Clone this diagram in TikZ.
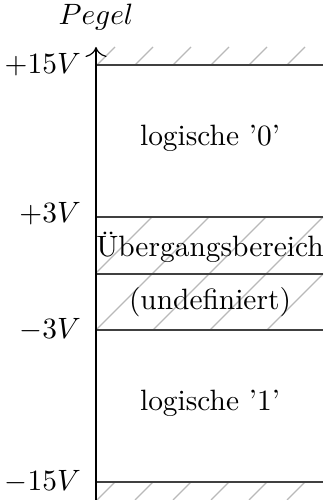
\documentclass[tikz,border=0pt]{standalone}
\usepackage{amsmath}
\usepackage{tikz}
\usetikzlibrary{arrows.meta, positioning}

\begin{document}
\begin{tikzpicture}[
    x=0.34pt, y=0.34pt,
    level/.style={draw=black!75, semithick},
    hatch/.style={draw=gray!55, thin},
    axis/.style={-{To[length=1.2mm]}, thin},
    volt/.style={anchor=east, inner sep=1pt},
    zone/.style={align=center}
]
    \useasboundingbox (0,0) rectangle (326,500);

    % Coordinates
    \coordinate (o) at (96,0);
    \coordinate (top) at (96,453);
    \coordinate (p15) at (96,435);
    \coordinate (p3) at (96,283);
    \coordinate (mid) at (96,226);
    \coordinate (m3) at (96,170);
    \coordinate (m15) at (96,18);
    \coordinate (p15r) at (323,435);
    \coordinate (p3r) at (323,283);
    \coordinate (midr) at (323,226);
    \coordinate (m3r) at (323,170);
    \coordinate (m15r) at (323,18);

    % Hatching
    \foreach \k in {0,...,5} {
        \draw [hatch] (97+38*\k,435) -- ++(18,18);
        \draw [hatch] (115+38*\k,18) -- ++(-18,-18);
    }
    \begin{scope}
        \clip (m3) rectangle (p3r);
        \foreach \k in {-2,...,3}
            \draw [hatch] (96+57*\k,170) -- ++(113,113);
    \end{scope}

    % Levels
    \draw [level] (p15) -- (p15r);
    \draw [level] (p3) -- (p3r);
    \draw [level] (mid) -- (midr);
    \draw [level] (m3) -- (m3r);
    \draw [level] (m15) -- (m15r);

    % Axis
    \draw [axis] (o) -- (top);
    \node (pegel) [above=2pt of top] {$Pegel$};

    % Nodes
    \node (l15) [volt] at ([xshift=-4pt]p15) {$+15V$};
    \node (l3) [volt] at ([xshift=-4pt,yshift=1pt]p3) {$+3V$};
    \node (lm3) [volt] at ([xshift=-4pt]m3) {$-3V$};
    \node (lm15) [volt] at ([xshift=-4pt]m15) {$-15V$};

    \node (null) [zone] at (210,362) {logische '0'};
    \node (ueber) [zone] at (210,253) {Übergangsbereich};
    \node (undef) [zone] at (210,198) {(undefiniert)};
    \node (eins) [zone] at (210,97) {logische '1'};
\end{tikzpicture}
\end{document}
